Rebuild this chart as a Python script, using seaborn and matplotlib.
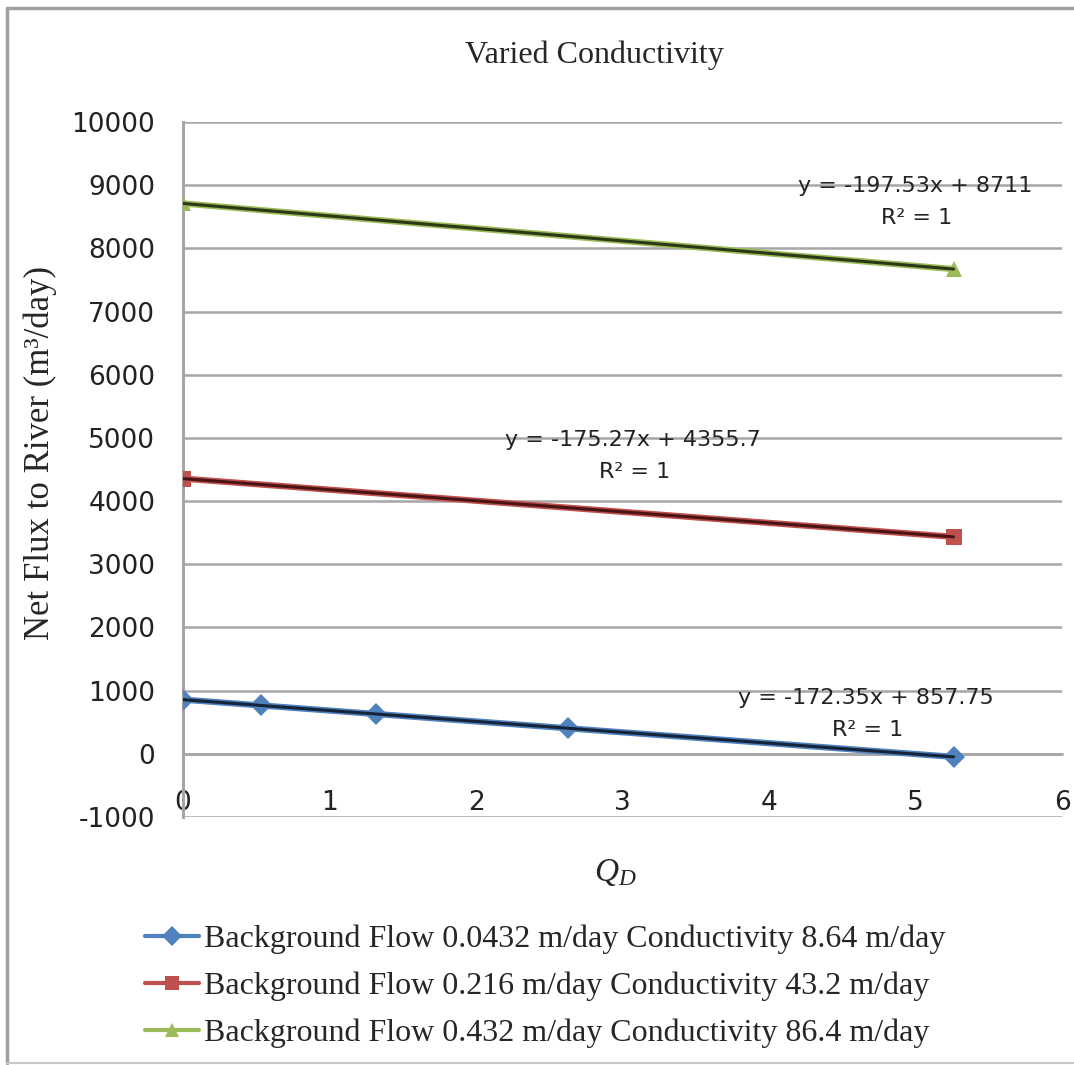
import numpy as np
import pandas as pd
import matplotlib
matplotlib.use("Agg")
import matplotlib.pyplot as plt
from matplotlib.lines import Line2D
import seaborn as sns

# ---- data ----
series_names = [
    "Background Flow 0.0432 m/day Conductivity 8.64 m/day",
    "Background Flow 0.216 m/day Conductivity 43.2 m/day",
    "Background Flow 0.432 m/day Conductivity 86.4 m/day",
]
x_blue = [0.0, 0.53, 1.32, 2.63, 5.26]
y_blue = [857.75, 766.0, 630.0, 404.0, -48.0]
x_red = [0.0, 5.26]
y_red = [4355.7, 3434.0]
x_green = [0.0, 5.26]
y_green = [8711.0, 7672.0]
equations = ["y = -172.35x + 857.75", "y = -175.27x + 4355.7", "y = -197.53x + 8711"]
y_ticks = [-1000, 0, 1000, 2000, 3000, 4000, 5000, 6000, 7000, 8000, 9000, 10000]
x_ticks = [0, 1, 2, 3, 4, 5, 6]

colors = ["#4F81BD", "#C0504D", "#9BBB59"]
trend_colors = ["#16243A", "#4A1414", "#2A3816"]
markers = ["D", "s", "^"]

df = pd.concat([
    pd.DataFrame({"x": x_blue, "y": y_blue, "series": series_names[0]}),
    pd.DataFrame({"x": x_red, "y": y_red, "series": series_names[1]}),
    pd.DataFrame({"x": x_green, "y": y_green, "series": series_names[2]}),
], ignore_index=True)

sns.set_style("white")
serif = ["Liberation Serif", "DejaVu Serif"]
plt.rcParams["font.family"] = ["DejaVu Sans"]
plt.rcParams["axes.unicode_minus"] = False
plt.rcParams["mathtext.fontset"] = "custom"
plt.rcParams["mathtext.it"] = "Liberation Serif:italic"
plt.rcParams["mathtext.rm"] = "Liberation Serif"

fig = plt.figure(figsize=(10.74, 10.65), dpi=100)
ax = fig.add_axes([183 / 1074, 1 - 817 / 1065, (1062 - 183) / 1074, (817 - 122) / 1065])

sns.lineplot(data=df, x="x", y="y", hue="series", style="series",
             palette=dict(zip(series_names, colors)),
             markers=dict(zip(series_names, markers)),
             dashes=False, ax=ax, linewidth=4.5, markersize=11,
             markeredgewidth=0, legend=False, sort=False, zorder=3)

# trendlines (linear fit through each series)
for xs, ys, tc in [(x_blue, y_blue, trend_colors[0]), (x_red, y_red, trend_colors[1]),
                   (x_green, y_green, trend_colors[2])]:
    m, b = np.polyfit(xs, ys, 1)
    xx = np.array([min(xs), max(xs)])
    ax.plot(xx, m * xx + b, color=tc, lw=2.2, zorder=4)

ax.set_xlim(0, 6)
ax.set_ylim(-1000, 10000)
ax.set_yticks(y_ticks)
ax.set_xticks(x_ticks)
ax.yaxis.grid(True, color="#A6A6A6", lw=1.8)
ax.xaxis.grid(False)
for s in ["top", "right"]:
    ax.spines[s].set_visible(False)
ax.spines["left"].set_color("#A6A6A6")
ax.spines["left"].set_linewidth(2.2)
ax.spines["bottom"].set_position(("data", 0))
ax.spines["bottom"].set_color("#A6A6A6")
ax.spines["bottom"].set_linewidth(1.8)
ax.tick_params(axis="y", direction="out", length=6, width=1.8, color="#A6A6A6",
               labelsize=19, pad=14, labelcolor="#222222")
ax.tick_params(axis="x", direction="out", length=9, width=1.8, color="#A6A6A6",
               labelsize=19, pad=17, labelcolor="#222222")
ax.set_xlabel("")
ax.set_ylabel("")

# equations
eq_pos = [(4.66, 886, 380), (3.07, 4968, 4462), (5.0, 8987, 8481)]
for eq, (ex, ey, ry) in zip(equations, eq_pos):
    ax.text(ex, ey, eq, ha="center", va="center", fontsize=16, color="#222222", zorder=5)
    ax.text(ex + 0.01, ry, "R² = 1", ha="center", va="center", fontsize=16, color="#222222", zorder=5)

fig.text(594 / 1074, 1 - 55 / 1065, "Varied Conductivity", ha="center", va="center",
         fontsize=23, family=serif)
fig.text(40 / 1074, 1 - 453 / 1065, "Net Flux to River (m³/day)", ha="center", va="center",
         rotation=90, fontsize=25, family=serif)
fig.text(615 / 1074, 1 - 872 / 1065, "$Q_D$", ha="center", va="center", fontsize=24)

handles = [Line2D([0], [0], color=c, lw=3, marker=mk, markersize=10, markeredgewidth=0)
           for c, mk in zip(colors, markers)]
leg = fig.legend(handles, series_names, loc="upper left",
                 bbox_to_anchor=(132 / 1074, 1 - 912 / 1065), frameon=False,
                 prop={"family": serif, "size": 23}, handlelength=1.7,
                 handletextpad=0.15, labelspacing=0.55, borderaxespad=0)

# chart border
fig.add_artist(Line2D([7 / 1074, 7 / 1074], [1 - 1063 / 1065, 1 - 8 / 1065],
                      color="#A0A0A0", lw=2.5, transform=fig.transFigure))
fig.add_artist(Line2D([7 / 1074, 1.0], [1 - 8 / 1065, 1 - 8 / 1065],
                      color="#A0A0A0", lw=2.5, transform=fig.transFigure))
fig.add_artist(Line2D([7 / 1074, 1.0], [1 - 1063 / 1065, 1 - 1063 / 1065],
                      color="#C8C8C8", lw=1.5, transform=fig.transFigure))

fig.savefig("out.png", dpi=100)
